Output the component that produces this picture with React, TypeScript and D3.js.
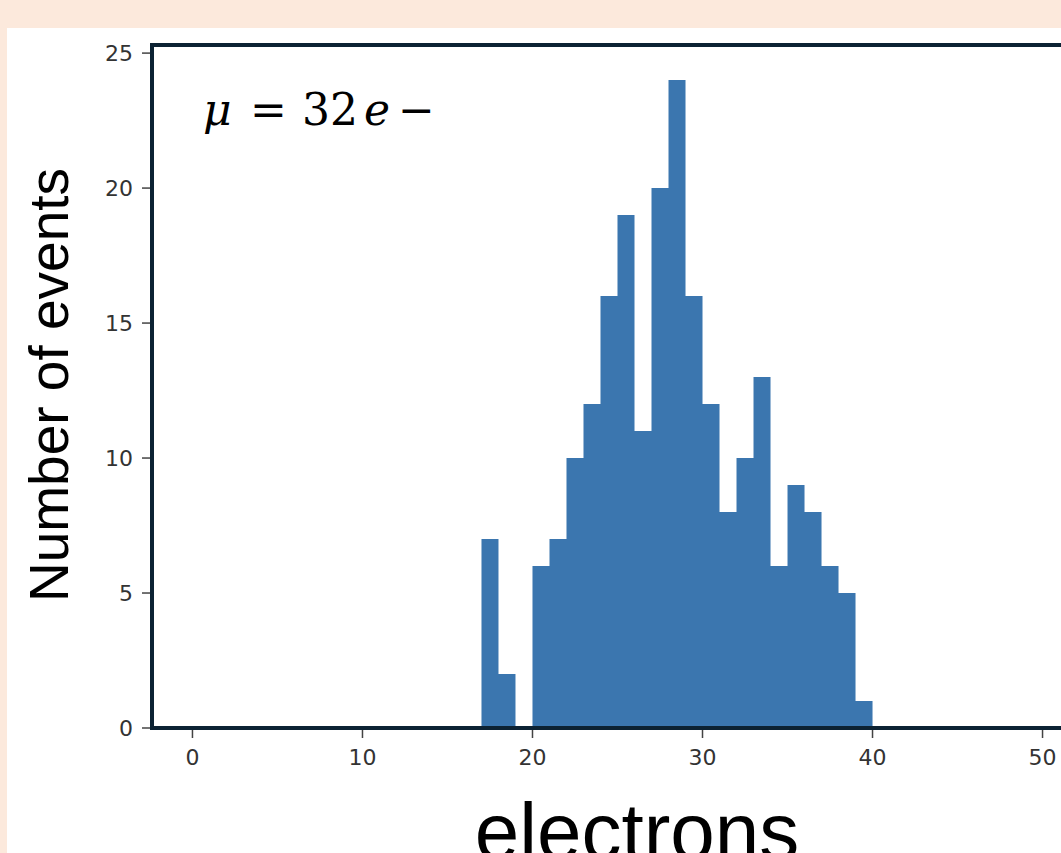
import React from "react";
import * as d3 from "d3";

// Histogram bins (left edge, width 1) and counts
const binStarts = [17, 18, 19, 20, 21, 22, 23, 24, 25, 26, 27, 28, 29, 30, 31, 32, 33, 34, 35, 36, 37, 38, 39, 40, 41, 42, 43, 44, 45, 46, 47, 48];
const counts = [7, 2, 0, 6, 7, 10, 12, 16, 19, 11, 20, 24, 16, 12, 8, 10, 13, 6, 9, 8, 6, 5, 1, 0, 0.05, 0.05, 0.05, 0.05, 0.05, 0.05, 0.05, 0.05];
const xTicks = [0, 10, 20, 30, 40, 50];
const yTicks = [0, 5, 10, 15, 20, 25];
const xLabel = "electrons";
const yLabel = "Number of events";

const W = 1061;
const H = 853;

export default function App() {
  const x = d3.scaleLinear().domain([-2.38, 53.38]).range([152, 1100]);
  const y = d3.scaleLinear().domain([0, 25.3]).range([728, 45]);
  const barColor = "#3b76af";
  const spine = "#0c2233";
  const tickColor = "#444";
  const tickFont = "'DejaVu Sans', sans-serif";

  const pts: [number, number][] = binStarts.map((b, i) => [b, counts[i]]);
  pts.push([binStarts[binStarts.length - 1] + 1, 0]);
  const area = d3
    .area<[number, number]>()
    .x((d) => x(d[0]))
    .y0(y(0))
    .y1((d) => y(d[1]))
    .curve(d3.curveStepAfter);

  return (
    <div style={{ position: "absolute", left: 0, top: 0, width: W, height: H, overflow: "hidden" }}>
      <svg width={W} height={H} style={{ display: "block" }}>
        <rect x={0} y={0} width={W} height={H} fill="#fce9dc" />
        <rect x={7} y={28} width={W - 7} height={H - 28} fill="#ffffff" />

        {/* histogram */}
        <path d={area(pts) || ""} fill={barColor} />

        {/* spines */}
        <line x1={152} x2={W} y1={y(0)} y2={y(0)} stroke={spine} strokeWidth={4} />
        <line x1={152} x2={W} y1={45} y2={45} stroke={spine} strokeWidth={4} />
        <line x1={152} x2={152} y1={43} y2={730} stroke={spine} strokeWidth={4} />

        {/* x ticks */}
        {xTicks.map((t) => (
          <g key={"x" + t}>
            <line x1={x(t)} x2={x(t)} y1={730} y2={738} stroke={tickColor} strokeWidth={1.5} />
            <text
              x={x(t)}
              y={765}
              textAnchor="middle"
              fontFamily={tickFont}
              fontSize={22}
              fill="#333"
            >
              {t}
            </text>
          </g>
        ))}

        {/* y ticks */}
        {yTicks.map((t) => (
          <g key={"y" + t}>
            <line x1={142} x2={150} y1={y(t)} y2={y(t)} stroke={tickColor} strokeWidth={1.5} />
            <text
              x={133}
              y={y(t)}
              dy="0.36em"
              textAnchor="end"
              fontFamily={tickFont}
              fontSize={22}
              fill="#333"
            >
              {t}
            </text>
          </g>
        ))}

        {/* axis labels */}
        <text
          x={637}
          y={859}
          textAnchor="middle"
          fontFamily="'Liberation Sans', Arial, sans-serif"
          fontSize={80}
          fill="#000"
        >
          {xLabel}
        </text>
        <text
          transform="translate(68,385) rotate(-90)"
          textAnchor="middle"
          fontFamily="'Liberation Sans', Arial, sans-serif"
          fontSize={55}
          fill="#000"
        >
          {yLabel}
        </text>

        {/* annotation */}
        <text y={125} fontFamily="'DejaVu Serif', serif" fontSize={44} fill="#000">
          <tspan x={203} fontStyle="italic">μ</tspan>
          <tspan x={250}>=</tspan>
          <tspan x={302}>32</tspan>
          <tspan x={364} fontStyle="italic">e</tspan>
          <tspan x={398}>−</tspan>
        </text>
      </svg>
    </div>
  );
}
